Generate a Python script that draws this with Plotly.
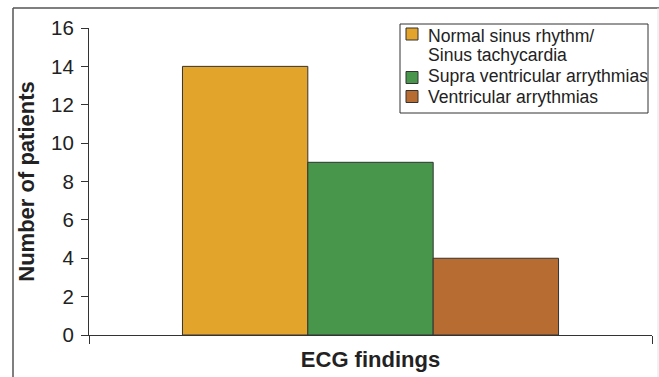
import plotly.graph_objects as go

legend_lines = [["Normal sinus rhythm/", "Sinus tachycardia"], ["Supra ventricular arrythmias"], ["Ventricular arrythmias"]]
categories = [" ".join(l) for l in legend_lines]
patients = [14, 9, 4]
colors = ["#E3A42C", "#47964B", "#B76D32"]
y_ticks = [0, 2, 4, 6, 8, 10, 12, 14, 16]

fig = go.Figure()
for name, val, col in zip(categories, patients, colors):
    fig.add_trace(go.Bar(
        x=[0], y=[val], name=name, showlegend=False,
        marker=dict(color=col, line=dict(color="#333333", width=1)),
    ))

W, H = 659, 377
ml, mr, mt, mb = 89, 7, 28, 42
pw, ph = W - ml - mr, H - mt - mb

def px(x):
    return (x - ml) / pw

def py(y):
    return (H - mb - y) / ph

shapes = [
    dict(type="line", xref="paper", yref="paper", x0=px(13), x1=px(13), y0=py(8), y1=py(380),
         line=dict(color="#555555", width=1.5)),
    dict(type="line", xref="paper", yref="paper", x0=px(13), x1=px(659), y0=py(8), y1=py(8),
         line=dict(color="#555555", width=1.5)),
    dict(type="line", xref="paper", yref="paper", x0=px(658), x1=px(658), y0=py(8), y1=py(380),
         line=dict(color="#e4e4e4", width=1)),
    # legend box
    dict(type="rect", xref="paper", yref="paper", x0=px(400), x1=px(648), y0=py(24), y1=py(113),
         line=dict(color="#333333", width=1), fillcolor="white", layer="above"),
]
annotations = []
sq_centers = [34, 77.5, 96.5]
line_centers = [[36, 55], [76], [97]]
for col, sc, lines, lcs in zip(colors, sq_centers, legend_lines, line_centers):
    shapes.append(dict(type="rect", xref="paper", yref="paper", x0=px(406), x1=px(418),
                       y0=py(sc - 6), y1=py(sc + 6), fillcolor=col,
                       line=dict(color="#333333", width=1), layer="above"))
    for txt, lc in zip(lines, lcs):
        annotations.append(dict(text=txt, xref="paper", yref="paper", x=px(426), y=py(lc),
                                xanchor="left", yanchor="middle", showarrow=False,
                                font=dict(size=17.6, color="#222222")))

fig.update_layout(
    width=W, height=H,
    margin=dict(l=ml, r=mr, t=mt, b=mb),
    paper_bgcolor="white", plot_bgcolor="white",
    barmode="group", bargap=0.332, bargroupgap=0,
    font=dict(family="Liberation Sans, Arial, sans-serif", color="#222222"),
    xaxis=dict(
        range=[-0.5, 0.5], showticklabels=False,
        tickvals=[-0.5, 0.5], ticks="outside", ticklen=8, tickcolor="#333333",
        showline=True, linecolor="#333333", linewidth=1, showgrid=False, zeroline=False,
        title=dict(text="<b>ECG findings</b>", font=dict(size=22, color="#222222"), standoff=8),
    ),
    yaxis=dict(
        range=[0, 16], tickvals=y_ticks, ticks="outside", ticklen=7, tickcolor="#333333",
        tickfont=dict(size=20.5, color="#222222"), ticklabelstandoff=3,
        showline=True, linecolor="#333333", linewidth=1, showgrid=False, zeroline=False,
        title=dict(text="<b>Number of patients</b>", font=dict(size=22, color="#222222"), standoff=10),
    ),
    shapes=shapes,
    annotations=annotations,
)

fig.write_html("out.html")
